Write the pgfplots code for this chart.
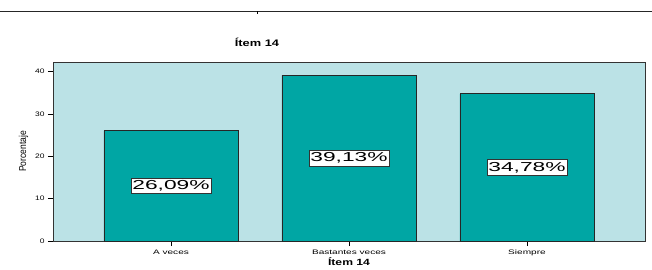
\documentclass[border=0pt]{standalone}
\usepackage{pgfplots}
\pgfplotsset{compat=1.18}
\usepackage{fontspec}
\setmainfont{Liberation Sans}
\definecolor{bgc}{RGB}{187,226,230}
\definecolor{barc}{RGB}{0,166,164}
\begin{document}
\begin{tikzpicture}[x=1pt,y=1pt]
\useasboundingbox (0,0) rectangle (652,269);
\draw[line width=1pt,black!85] (0,258) -- (652,258);
\draw[line width=0.6pt] (257,258) -- (257,255);
\node[font=\fontsize{9.5}{10}\selectfont\bfseries] at (257,227) {\scalebox{1.35}[1]{Ítem 14}};
\begin{axis}[
  at={(53pt,28pt)}, anchor=south west,
  scale only axis, width=592pt, height=179pt,
  xmin=-0.663, xmax=2.663, ymin=0, ymax=42.3,
  axis background/.style={fill=bgc},
  axis line style={line width=0.9pt, black!80},
  xtick={0,1,2},
  xticklabels={\scalebox{1.55}[1]{A veces},\scalebox{1.55}[1]{Bastantes veces},\scalebox{1.55}[1]{Siempre}},
  ytick={0,10,20,30,40},
  yticklabels={\scalebox{1.3}[1]{0},\scalebox{1.3}[1]{10},\scalebox{1.3}[1]{20},\scalebox{1.3}[1]{30},\scalebox{1.3}[1]{40}},
  tick align=outside, xtick pos=bottom, ytick pos=left,
  major tick length=5pt,
  tick style={line width=0.6pt, black},
  tick label style={font=\fontsize{6.5}{7}\selectfont},
  ylabel={\scalebox{0.85}[1]{Porcentaje}}, ylabel style={font=\fontsize{10}{11}\selectfont, yshift=0pt},
  xlabel={\scalebox{1.35}[1]{Ítem 14}}, xlabel style={font=\fontsize{9}{10}\selectfont\bfseries, yshift=5pt},
]
\addplot[ybar, bar width=0.753, fill=barc, draw=black!85, line width=0.8pt,
  visualization depends on={rawy \as \rawy},
  nodes near coords={\scalebox{1.75}[1]{\pgfmathprintnumber[fixed,fixed zerofill,precision=2,use comma,assume math mode=true]{\pgfplotspointmeta}\%}},
  every node near coord/.append style={anchor=center, fill=white, draw=black!80, line width=0.5pt,
     font=\fontsize{13}{14}\selectfont, inner xsep=1.5pt, inner ysep=2.5pt,
     shift={(axis direction cs:0,-\rawy/2)}},
] coordinates {(0,26.09) (1,39.13) (2,34.78)};
\end{axis}
\end{tikzpicture}
\end{document}
